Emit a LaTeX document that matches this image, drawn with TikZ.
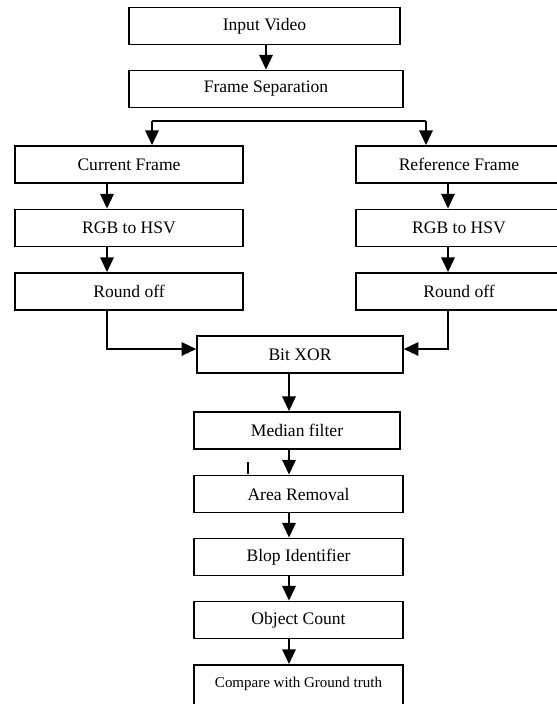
\documentclass[tikz,border=0pt]{standalone}
\usepackage{fontspec}
\setmainfont{Liberation Serif}
\usetikzlibrary{arrows.meta}

\tikzset{
  stage/.style={draw, line width=1.3pt, minimum height=11.2mm, inner sep=2pt,
    font=\fontsize{15}{18}\selectfont},
  flow/.style={line width=1.3pt, -{Triangle[length=12.5pt,width=11.5pt]}}
}

\begin{document}
\begin{tikzpicture}[x=0.3mm,y=-0.3mm]
    \useasboundingbox (0,0) rectangle (556,704);

    \node[stage, minimum width=81.3mm] (video) at (264.5,26) {Input Video};
    \node[stage, minimum width=82.2mm] (sep) at (266,89) {Frame Separation};

    \node[stage, minimum width=68.4mm] (cur) at (129,164.5) {Current Frame};
    \node[stage, minimum width=68.4mm] (rgbL) at (129,228) {RGB to HSV};
    \node[stage, minimum width=68.4mm] (roundL) at (129,291.5) {Round off};

    \node[stage, minimum width=61.8mm] (ref) at (459,164.5) {Reference Frame};
    \node[stage, minimum width=61.8mm] (rgbR) at (459,228) {RGB to HSV};
    \node[stage, minimum width=61.8mm] (roundR) at (459,291.5) {Round off};

    \node[stage, minimum width=61.8mm] (xor) at (300,354.5) {Bit XOR};
    \node[stage, minimum width=61.8mm] (median) at (297,430.5) {Median filter};
    \node[stage, minimum width=62.7mm] (area) at (298.5,494) {Area Removal};
    \node[stage, minimum width=62.7mm] (blop) at (298.5,557) {Blop Identifier};
    \node[stage, minimum width=62.7mm] (count) at (298.5,620) {Object Count};
    \node[stage, minimum width=62.7mm, minimum height=0pt, inner ysep=0pt,
          text height=6.9mm, text depth=7.5mm, anchor=north,
          font=\fontsize{12.8}{15}\selectfont] (compare) at (298.5,664)
          {Compare with Ground truth};

    % columns the arrows run in
    \coordinate (colL) at (107,0);
    \coordinate (colR) at (448,0);
    \coordinate (colM) at (289,0);
    \coordinate (joinY) at (0,349);
    \coordinate (splitL) at (152,121);
    \coordinate (splitR) at (426,121);

    \draw[flow] (video.south -| sep.north) -- (sep.north);
    \draw[line width=1.3pt] (splitL) -- (splitR);
    \draw[flow] (splitL) -- (splitL |- cur.north);
    \draw[flow] (splitR) -- (splitR |- ref.north);

    \draw[flow] (cur.south -| colL) -- (rgbL.north -| colL);
    \draw[flow] (rgbL.south -| colL) -- (roundL.north -| colL);
    \draw[flow] (ref.south -| colR) -- (rgbR.north -| colR);
    \draw[flow] (rgbR.south -| colR) -- (roundR.north -| colR);

    \draw[flow] (roundL.south -| colL) |- (xor.west |- joinY);
    \draw[flow] (roundR.south -| colR) |- (xor.east |- joinY);

    \draw[flow] (xor.south -| colM) -- (median.north -| colM);
    \draw[flow] (median.south -| colM) -- (area.north -| colM);
    \draw[flow] (area.south -| colM) -- (blop.north -| colM);
    \draw[flow] (blop.south -| colM) -- (count.north -| colM);
    \draw[flow] (count.south -| colM) -- (compare.north -| colM);

    \draw[line width=1.3pt] (248,462) -- (248,474);
\end{tikzpicture}
\end{document}
